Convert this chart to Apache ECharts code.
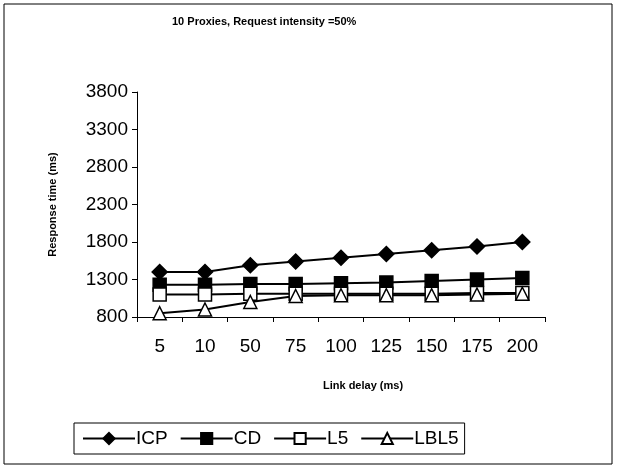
<!DOCTYPE html>
<html>
<head>
<meta charset="utf-8">
<script src="https://cdn.jsdelivr.net/npm/echarts@6/dist/echarts.min.js"></script>
<style>
  html, body { margin: 0; padding: 0; background: #fff; }
  #chart { width: 617px; height: 467px; }
</style>
</head>
<body>
<div id="chart"></div>
<script>
const linkDelays = ['5', '10', '50', '75', '100', '125', '150', '175', '200'];
const icp = [1400, 1400, 1490, 1540, 1590, 1640, 1690, 1740, 1800];
const cd = [1230, 1230, 1240, 1240, 1250, 1260, 1280, 1300, 1320];
const l5 = [1100, 1100, 1110, 1110, 1110, 1110, 1110, 1120, 1120];
const lbl5 = [850, 900, 1000, 1080, 1090, 1090, 1090, 1100, 1110];

const font = '"Liberation Sans", Arial, sans-serif';

const chart = echarts.init(document.getElementById('chart'), null, { renderer: 'canvas' });

const lineSeries = (name, data, symbol, fill, size) => ({
  name,
  type: 'line',
  data,
  symbol,
  symbolSize: size,
  showAllSymbol: true,
  lineStyle: { color: '#000', width: 2 },
  itemStyle: { color: fill, borderColor: '#000', borderWidth: 1.5 },
  emphasis: { disabled: true },
});

chart.setOption({
  animation: false,
  backgroundColor: '#fff',
  textStyle: { fontFamily: font, color: '#000' },
  title: {
    text: '10 Proxies, Request intensity =50%',
    left: 167,
    top: 11,
    textStyle: { fontSize: 11, fontWeight: 'bold', color: '#000', fontFamily: font },
  },
  graphic: [
    {
      type: 'rect',
      shape: { x: 4, y: 4, width: 608, height: 460 },
      style: { fill: 'none', stroke: '#000', lineWidth: 1 },
      silent: true,
    },
  ],
  legend: {
    left: 74,
    top: 423,
    padding: [6, 6, 6, 8],
    itemGap: 12,
    itemWidth: 52,
    itemHeight: 14,
    borderColor: '#000',
    borderWidth: 1,
    textStyle: { fontSize: 19, color: '#000', fontFamily: font, padding: [0, 0, 0, -4] },
    data: ['ICP', 'CD', 'L5', 'LBL5'],
  },
  grid: { left: 137, right: 72, top: 92, bottom: 150 },
  xAxis: {
    type: 'category',
    data: linkDelays,
    boundaryGap: true,
    name: 'Link delay (ms)',
    nameLocation: 'middle',
    nameGap: 63,
    nameTextStyle: { fontSize: 11, fontWeight: 'bold', color: '#000', padding: [0, 0, 0, 44] },
    axisLine: { lineStyle: { color: '#000', width: 1 } },
    axisTick: { show: true, alignWithLabel: false, length: 5, lineStyle: { color: '#000' } },
    axisLabel: { fontSize: 19, color: '#000', margin: 20 },
    splitLine: { show: false },
  },
  yAxis: {
    type: 'value',
    min: 800,
    max: 3800,
    interval: 500,
    name: 'Response time (ms)',
    nameLocation: 'middle',
    nameGap: 79,
    nameTextStyle: { fontSize: 11, fontWeight: 'bold', color: '#000' },
    axisLine: { show: true, lineStyle: { color: '#000', width: 1 } },
    axisTick: { show: true, length: 5, lineStyle: { color: '#000' } },
    axisLabel: { fontSize: 19, color: '#000', margin: 9, formatter: (v) => String(v) },
    splitLine: { show: false },
  },
  series: [
    lineSeries('ICP', icp, 'diamond', '#000', 15),
    lineSeries('CD', cd, 'rect', '#000', 13),
    lineSeries('L5', l5, 'rect', '#fff', 13),
    lineSeries('LBL5', lbl5, 'triangle', '#fff', 13),
  ],
});
</script>
</body>
</html>
